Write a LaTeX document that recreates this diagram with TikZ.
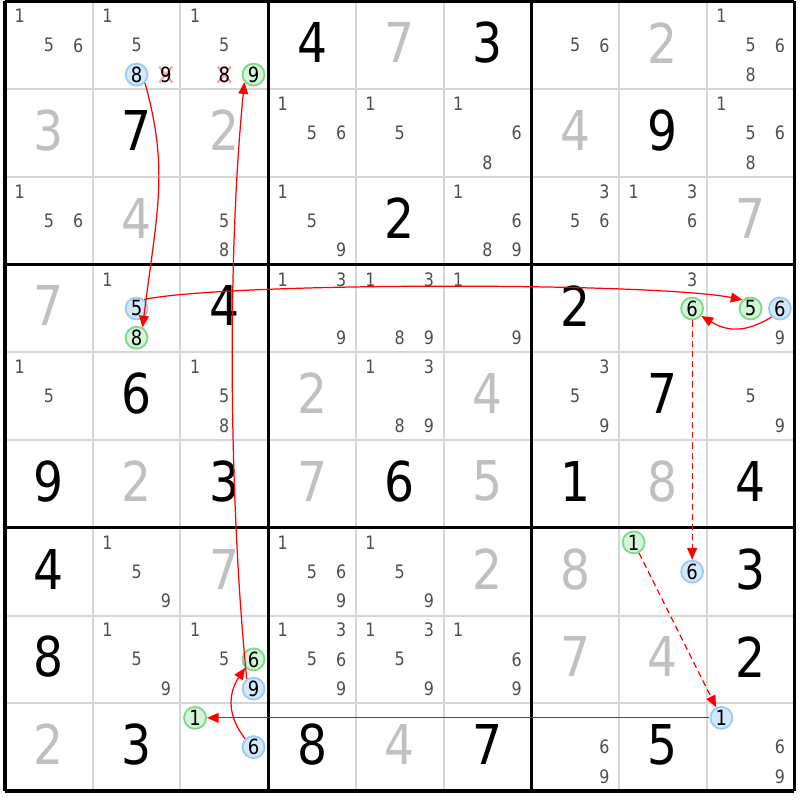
\documentclass[tikz,border=0pt]{standalone}
\usepackage{fontspec}
\setmainfont{DejaVu Sans}[FakeStretch=0.86]
\usetikzlibrary{arrows.meta, calc}

\definecolor{solvedgray}{HTML}{C0C0C0}
\definecolor{candgray}{HTML}{4F4F4F}
\definecolor{gridgray}{HTML}{D6D6D6}
\definecolor{bluefill}{HTML}{D4E8FB}
\definecolor{blueline}{HTML}{9CCBF4}
\definecolor{greenfill}{HTML}{D4F5D8}
\definecolor{greenline}{HTML}{7DD98B}
\definecolor{elimpink}{HTML}{F4A3AC}
\definecolor{linkred}{HTML}{FF0000}

\tikzset{
  bignum/.style={inner sep=0pt, font=\fontsize{17.8}{20}\selectfont},
  givennum/.style={bignum, text=black},
  solvednum/.style={bignum, text=solvedgray},
  candnum/.style={inner sep=0pt, text=candgray, font=\fontsize{6}{7}\selectfont},
  elimnum/.style={inner sep=0pt, text=black, font=\fontsize{6.8}{7}\selectfont},
  elimline/.style={elimpink, line width=0.7pt},
  marknum/.style={circle, inner sep=0pt, minimum size=0.25cm, line width=0.6pt, text=black, font=\fontsize{6.8}{7}\selectfont},
  onmark/.style={marknum, draw=blueline, fill=bluefill},
  offmark/.style={marknum, draw=greenline, fill=greenfill},
  strongarrow/.style={draw=linkred, line width=0.4pt, -{Triangle[length=3.8pt,width=3.2pt]}},
  weakarrow/.style={strongarrow, dash pattern=on 2pt off 1.3pt},
}

% cell (row, column, value)
\newcommand{\givencell}[3]{\node[givennum] (g#1#2) at (#2-0.5,9.53-#1) {#3};}
\newcommand{\solvedcell}[3]{\node[solvednum] (g#1#2) at (#2-0.5,9.53-#1) {#3};}
% pencil marks (row, column, list)
\newcommand{\candcell}[3]{\foreach \n in {#3}
  \node[candnum] (c#1#2\n) at ({#2-0.5+(mod(\n-1,3)-1)/3},{9.5-#1-(int((\n-1)/3)-1)/3}) {\n};}
\newcommand{\markcell}[4]{\node[#4] (c#1#2#3) at ({#2-0.5+(mod(#3-1,3)-1)/3},{9.5-#1-(int((#3-1)/3)-1)/3}) {#3};}
\newcommand{\elimcell}[3]{%
  \coordinate (x#1#2#3) at ({#2-0.5+(mod(#3-1,3)-1)/3},{9.5-#1-(int((#3-1)/3)-1)/3});
  \draw[elimline] (x#1#2#3) +(-0.075,-0.09) -- +(0.075,0.09) +(-0.075,0.09) -- +(0.075,-0.09);
  \node[elimnum] (c#1#2#3) at (x#1#2#3) {#3};}

\begin{document}
\begin{tikzpicture}
    \path[use as bounding box, fill=white] (-0.057,-0.097) rectangle (9.063,9.017);

    \draw[gridgray, line width=0.65pt] (0,0) grid (9,9);
    \draw[black, line width=1pt, step=3] (0,0) grid (9,9);

    % row 1
    \candcell{1}{1}{1,5,6}
    \candcell{1}{2}{1,5}
    \markcell{1}{2}{8}{onmark}
    \elimcell{1}{2}{9}
    \candcell{1}{3}{1,5}
    \elimcell{1}{3}{8}
    \markcell{1}{3}{9}{offmark}
    \givencell{1}{4}{4}
    \solvedcell{1}{5}{7}
    \givencell{1}{6}{3}
    \candcell{1}{7}{5,6}
    \solvedcell{1}{8}{2}
    \candcell{1}{9}{1,5,6,8}

    % row 2
    \solvedcell{2}{1}{3}
    \givencell{2}{2}{7}
    \solvedcell{2}{3}{2}
    \candcell{2}{4}{1,5,6}
    \candcell{2}{5}{1,5}
    \candcell{2}{6}{1,6,8}
    \solvedcell{2}{7}{4}
    \givencell{2}{8}{9}
    \candcell{2}{9}{1,5,6,8}

    % row 3
    \candcell{3}{1}{1,5,6}
    \solvedcell{3}{2}{4}
    \candcell{3}{3}{5,8}
    \candcell{3}{4}{1,5,9}
    \givencell{3}{5}{2}
    \candcell{3}{6}{1,6,8,9}
    \candcell{3}{7}{3,5,6}
    \candcell{3}{8}{1,3,6}
    \solvedcell{3}{9}{7}

    % row 4
    \solvedcell{4}{1}{7}
    \candcell{4}{2}{1}
    \markcell{4}{2}{5}{onmark}
    \markcell{4}{2}{8}{offmark}
    \givencell{4}{3}{4}
    \candcell{4}{4}{1,3,9}
    \candcell{4}{5}{1,3,8,9}
    \candcell{4}{6}{1,9}
    \givencell{4}{7}{2}
    \candcell{4}{8}{3}
    \markcell{4}{8}{6}{offmark}
    \markcell{4}{9}{5}{offmark}
    \markcell{4}{9}{6}{onmark}
    \candcell{4}{9}{9}

    % row 5
    \candcell{5}{1}{1,5}
    \givencell{5}{2}{6}
    \candcell{5}{3}{1,5,8}
    \solvedcell{5}{4}{2}
    \candcell{5}{5}{1,3,8,9}
    \solvedcell{5}{6}{4}
    \candcell{5}{7}{3,5,9}
    \givencell{5}{8}{7}
    \candcell{5}{9}{5,9}

    % row 6
    \givencell{6}{1}{9}
    \solvedcell{6}{2}{2}
    \givencell{6}{3}{3}
    \solvedcell{6}{4}{7}
    \givencell{6}{5}{6}
    \solvedcell{6}{6}{5}
    \givencell{6}{7}{1}
    \solvedcell{6}{8}{8}
    \givencell{6}{9}{4}

    % row 7
    \givencell{7}{1}{4}
    \candcell{7}{2}{1,5,9}
    \solvedcell{7}{3}{7}
    \candcell{7}{4}{1,5,6,9}
    \candcell{7}{5}{1,5,9}
    \solvedcell{7}{6}{2}
    \solvedcell{7}{7}{8}
    \markcell{7}{8}{1}{offmark}
    \markcell{7}{8}{6}{onmark}
    \givencell{7}{9}{3}

    % row 8
    \givencell{8}{1}{8}
    \candcell{8}{2}{1,5,9}
    \candcell{8}{3}{1,5}
    \markcell{8}{3}{6}{offmark}
    \markcell{8}{3}{9}{onmark}
    \candcell{8}{4}{1,3,5,6,9}
    \candcell{8}{5}{1,3,5,9}
    \candcell{8}{6}{1,6,9}
    \solvedcell{8}{7}{7}
    \solvedcell{8}{8}{4}
    \givencell{8}{9}{2}

    % row 9
    \solvedcell{9}{1}{2}
    \givencell{9}{2}{3}
    \markcell{9}{3}{1}{offmark}
    \markcell{9}{3}{6}{onmark}
    \givencell{9}{4}{8}
    \solvedcell{9}{5}{4}
    \givencell{9}{6}{7}
    \candcell{9}{7}{6,9}
    \givencell{9}{8}{5}
    \markcell{9}{9}{1}{onmark}
    \candcell{9}{9}{6,9}

    % chain
    \draw[strongarrow] (c128.-45) .. controls +(0.28,-1) and +(0.16,1.3) .. (c428.60);
    \draw[strongarrow] (c425.50) .. controls +(1,0.2) and +(-1,0.2) .. (c495.133);
    \draw[strongarrow] (c496.-134) .. controls +(-0.3,-0.18) and +(0.3,-0.18) .. (c486.-39);
    \draw[weakarrow] (c486) -- (c786);
    \draw[weakarrow] (c781) -- (c991);
    \draw[strongarrow] (c991) -- (c931);
    \draw[strongarrow] (c936.135) .. controls +(-0.2,0.25) and +(-0.2,-0.3) .. (c836.-135);
    \draw[strongarrow] (c839.125) .. controls +(-0.2,2) and +(-0.2,-2) .. (c139.-140);
\end{tikzpicture}
\end{document}
